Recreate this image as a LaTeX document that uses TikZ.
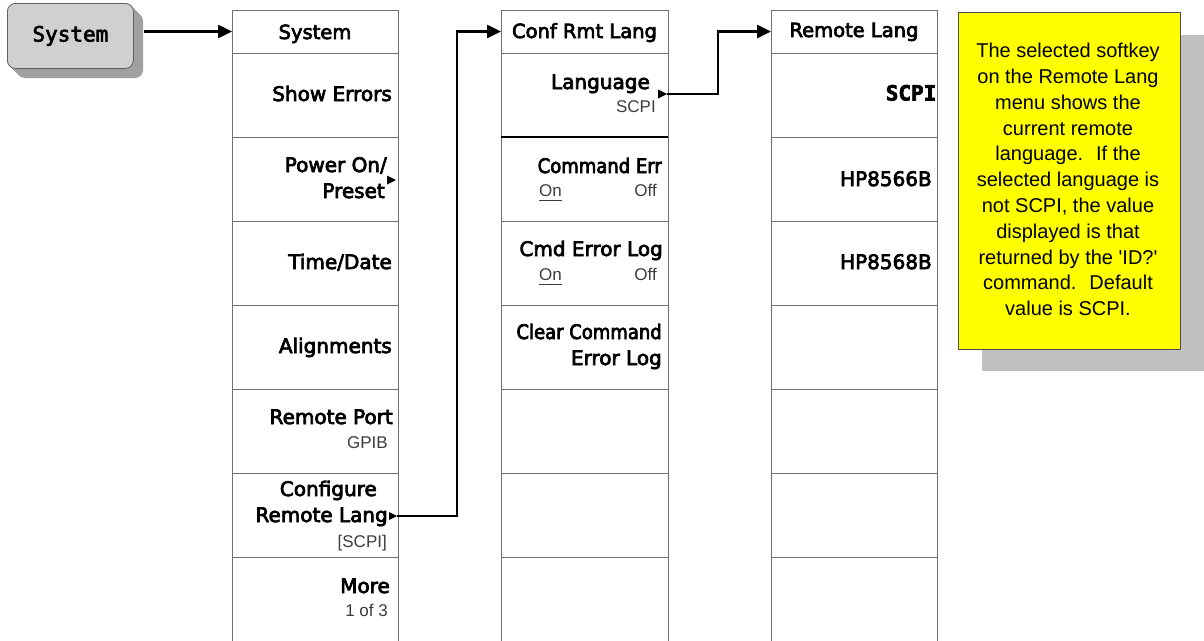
\documentclass[tikz,border=0pt]{standalone}
\usepackage{fontspec}
\setmainfont{DejaVu Sans}
\newfontfamily\keyfont[FakeBold=3.5]{DejaVu Sans}
\newfontfamily\keynarrow[FakeBold=3.5,FakeStretch=0.9]{DejaVu Sans}
\newfontfamily\notefont{Liberation Sans}
\newfontfamily\monofont[FakeBold=3]{DejaVu Sans Mono}
\usetikzlibrary{arrows.meta,calc}

\definecolor{cellline}{RGB}{112,112,112}
\definecolor{subgray}{RGB}{60,60,60}
\definecolor{btnface}{RGB}{208,208,208}
\definecolor{btnside}{RGB}{160,160,160}
\definecolor{btnedge}{RGB}{96,96,96}
\definecolor{notefill}{RGB}{255,255,0}
\definecolor{noteshadow}{RGB}{192,192,192}

\tikzset{
  keycell/.style={draw=cellline, line width=1pt, minimum width=166pt,
    minimum height=84pt, anchor=north west, inner sep=0pt, outer sep=0pt},
  titlecell/.style={keycell, minimum height=43pt},
  keylabel/.style={font=\keyfont\fontsize{20}{24}\selectfont, anchor=base east, inner sep=0pt},
  narrowlabel/.style={keylabel, font=\keynarrow\fontsize{20}{24}\selectfont},
  keytitle/.style={font=\keyfont\fontsize{19.5}{24}\selectfont, anchor=base, inner sep=0pt},
  keysub/.style={font=\notefont\fontsize{17}{20}\selectfont, text=subgray,
    anchor=base east, inner sep=0pt},
  keysubl/.style={keysub, anchor=base west},
  link/.style={line width=2.5pt, -{Triangle[length=14pt,width=13pt]}},
  submenu/.style={fill=black},
}

\begin{document}
\begin{tikzpicture}[x=1pt,y=-1pt]
\useasboundingbox (0,0) rectangle (1204,640);

% ---- hardkey: System ----
\foreach \i in {10,9,...,1}
  \fill[btnside, rounded corners=8pt] ({7+\i},{3+\i}) rectangle ++(126,65);
\node[draw=btnedge, line width=0.8pt, fill=btnface, rounded corners=8pt,
  minimum width=126pt, minimum height=65pt, anchor=north west, inner sep=0pt,
  font=\monofont\fontsize{21}{24}\selectfont] (sysbtn) at (7,3) {System};

% ---- softkey columns ----
\node[titlecell] (a0) at (232,10) {};
\foreach \k in {1,...,7} \node[keycell] (a\k) at (232,{53+84*(\k-1)}) {};
\node[titlecell, minimum width=167pt] (b0) at (501,10) {};
\foreach \k in {1,...,7} \node[keycell, minimum width=167pt] (b\k) at (501,{53+84*(\k-1)}) {};
\node[titlecell] (c0) at (771,10) {};
\foreach \k in {1,...,7} \node[keycell] (c\k) at (771,{53+84*(\k-1)}) {};
\draw[line width=1.6pt] (b1.south west) -- (b1.south east);

% System menu
\node[keytitle] (a0t) at (315,39) {System};
\node[keylabel] (a1t) at (392,101) {Show Errors};
\node[keylabel] (a2t) at (387,172) {Power On/};
\node[keylabel] (a2u) at (385,198) {Preset};
\coordinate (pwrtip) at (396,180);
\fill[submenu] (pwrtip) -- ++(-9,-4.5) -- ++(0,9) -- cycle;
\node[keylabel] (a3t) at (392,269) {Time/Date};
\node[keylabel] (a4t) at (392,353) {Alignments};
\node[keylabel] (a5t) at (393,424) {Remote Port};
\node[keysub] (a5s) at (388,448) {GPIB};
\node[keylabel] (a6t) at (377,496) {Configure};
\node[keylabel] (a6u) at (388,522) {Remote Lang};
\node[keysub] (a6s) at (387,547) {[SCPI]};
\coordinate (cfgtip) at (397,516);
\fill[submenu] (cfgtip) -- ++(-8,-4) -- ++(0,8) -- cycle;
\node[keylabel] (a7t) at (390,593) {More};
\node[keysub] (a7s) at (388,616) {1 of 3};

% Conf Rmt Lang menu
\node[keytitle] (b0t) at (584.5,38) {Conf Rmt Lang};
\node[keylabel] (b1t) at (650,89) {Language};
\node[keysub] (b1s) at (656,112) {SCPI};
\coordinate (langtip) at (667,94);
\fill[submenu] (langtip) -- ++(-9,-4.5) -- ++(0,9) -- cycle;
\node[narrowlabel] (b2t) at (662,173) {Command Err};
\node[keysubl] (b2on) at (539,196) {On};
\node[keysub] (b2off) at (657,196) {Off};
\draw[subgray, line width=1pt] ([yshift=-4pt]b2on.base west) -- ([yshift=-4pt]b2on.base east);
\node[keylabel] (b3t) at (663,256) {Cmd Error Log};
\node[keysubl] (b3on) at (539,280) {On};
\node[keysub] (b3off) at (657,280) {Off};
\draw[subgray, line width=1pt] ([yshift=-4pt]b3on.base west) -- ([yshift=-4pt]b3on.base east);
\node[narrowlabel] (b4t) at (662,339) {Clear Command};
\node[keylabel] (b4u) at (662,365) {Error Log};

% Remote Lang menu
\node[keytitle] (c0t) at (854,37) {Remote Lang};
\node[keylabel, font=\monofont\bfseries\fontsize{21}{24}\selectfont] (c1t) at (936.5,100.5) {SCPI};
\node[keylabel] (c2t) at (932,186) {HP8566B};
\node[keylabel] (c3t) at (932,269) {HP8568B};

% ---- connectors ----
\draw[link] ($(sysbtn.east |- a0.west)+(10,0)$) -- (a0.west);
\draw[link] (cfgtip) -- ++(60,0) |- (b0.west);
\draw[link] (langtip) -- ++(51,0) |- (c0.west);

% ---- note ----
\fill[noteshadow] (982,35) rectangle (1204,371);
\node[draw=black!70, line width=0.8pt, fill=notefill, minimum width=222pt,
  minimum height=337pt, anchor=north west, inner sep=0pt] (notebox) at (958,12) {};
\node[font=\notefont\fontsize{20}{25.8}\selectfont, align=center, anchor=north,
  inner sep=0pt] (notetext) at (1068,43) {The selected softkey\\on the Remote Lang\\menu shows the\\current remote\\language.~ If the\\selected language is\\not SCPI, the value\\displayed is that\\returned by the \textquotesingle ID?\textquotesingle\\command.~ Default\\value is SCPI.};
\end{tikzpicture}
\end{document}
